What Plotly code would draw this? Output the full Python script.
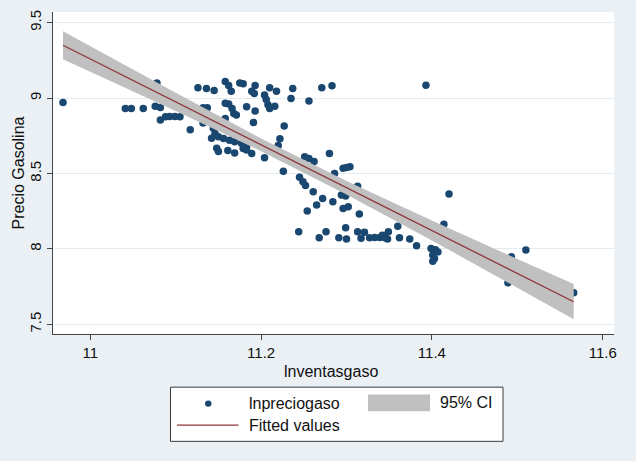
import plotly.graph_objects as go

# ---- data ----
ventas = [10.968, 11.041, 11.048, 11.062, 11.076, 11.082, 11.078, 11.082, 11.088, 11.093,
          11.099, 11.105, 11.117, 11.126, 11.136, 11.145, 11.132, 11.137, 11.132, 11.144,
          11.146, 11.142, 11.150, 11.148, 11.150, 11.158, 11.162, 11.165, 11.175, 11.179,
          11.193, 11.189, 11.192, 11.210, 11.218, 11.204, 11.206, 11.208, 11.210, 11.216,
          11.237, 11.235, 11.256, 11.271, 11.283, 11.158, 11.162, 11.166, 11.168, 11.171,
          11.183, 11.193, 11.158, 11.191, 11.227, 11.156, 11.163, 11.169, 11.177, 11.183,
          11.179, 11.189, 11.161, 11.169, 11.183, 11.204, 11.222, 11.220, 11.226, 11.251,
          11.256, 11.262, 11.259, 11.280, 11.296, 11.300, 11.304, 11.245, 11.249, 11.252,
          11.261, 11.286, 11.313, 11.272, 11.284, 11.294, 11.299, 11.265, 11.254, 11.296,
          11.302, 11.315, 11.244, 11.268, 11.276, 11.291, 11.299, 11.300, 11.313, 11.317,
          11.321, 11.327, 11.333, 11.339, 11.342, 11.345, 11.349, 11.348, 11.360, 11.362,
          11.374, 11.382, 11.399, 11.404, 11.401, 11.403, 11.401, 11.407, 11.414, 11.420,
          11.393, 11.493, 11.489, 11.510, 11.566]
precio = [8.970, 8.930, 8.930, 8.930, 8.945, 8.937, 9.100, 8.855, 8.876, 8.878,
          8.878, 8.876, 8.790, 9.068, 9.063, 9.050, 8.935, 8.935, 8.835, 8.800,
          8.765, 8.733, 8.743, 8.668, 8.645, 9.110, 9.083, 9.045, 9.100, 9.095,
          9.083, 9.045, 9.030, 9.068, 9.045, 9.020, 8.990, 8.955, 8.930, 8.945,
          9.063, 8.997, 8.980, 9.068, 9.081, 8.965, 8.960, 8.930, 8.897, 8.887,
          8.942, 8.915, 8.864, 8.838, 8.815, 8.732, 8.721, 8.710, 8.700, 8.678,
          8.666, 8.632, 8.652, 8.636, 8.655, 8.604, 8.730, 8.685, 8.515, 8.611,
          8.600, 8.580, 8.545, 8.632, 8.535, 8.540, 8.545, 8.475, 8.445, 8.420,
          8.379, 8.500, 8.415, 8.334, 8.313, 8.357, 8.350, 8.291, 8.251, 8.268,
          8.279, 8.231, 8.114, 8.074, 8.114, 8.074, 8.140, 8.066, 8.114, 8.070,
          8.110, 8.074, 8.076, 8.076, 8.090, 8.074, 8.114, 8.066, 8.150, 8.074,
          8.066, 8.021, 8.003, 7.995, 7.960, 7.937, 7.918, 7.980, 8.164, 8.364,
          9.085, 7.948, 7.775, 7.993, 7.710]

fit_x = [10.968, 11.1, 11.2, 11.3, 11.4, 11.5, 11.566]
fit_y = [9.350, 8.975, 8.690, 8.406, 8.122, 7.838, 7.650]
ci_lower = [9.257, 8.914, 8.648, 8.361, 8.056, 7.743, 7.533]
ci_upper = [9.443, 9.036, 8.732, 8.451, 8.188, 7.933, 7.767]

x_ticks = [11, 11.2, 11.4, 11.6]
y_ticks = [7.5, 8, 8.5, 9, 9.5]

# ---- styling ----
W, H = 636, 461
L, R, T, B = 53, 22, 10, 127
PW, PH = W - L - R, H - T - B
FONT = "Liberation Sans, Arial, Helvetica, sans-serif"
NAVY = "#1a476f"
MAROON = "#90353b"
GRAYCI = "#c0c0c0"
BG = "#eaf0f3"


def px(x):
    return (x - L) / PW


def py(y):
    return (H - B - y) / PH


fig = go.Figure()
fig.add_trace(go.Scatter(x=ventas, y=precio, mode="markers",
                         marker=dict(color=NAVY, size=7.5, line=dict(width=0)),
                         name="lnpreciogaso", showlegend=False))
fig.add_trace(go.Scatter(x=fit_x + fit_x[::-1], y=ci_upper + ci_lower[::-1],
                         fill="toself", fillcolor=GRAYCI, mode="none",
                         line=dict(width=0), name="95% CI", showlegend=False))
fig.add_trace(go.Scatter(x=fit_x, y=fit_y, mode="lines",
                         line=dict(color=MAROON, width=1.3),
                         name="Fitted values", showlegend=False))

shapes = []
annotations = []

# legend box
shapes.append(dict(type="rect", xref="paper", yref="paper",
                   x0=px(170.5), x1=px(503), y0=py(442), y1=py(387.5),
                   line=dict(color="#3a3a3a", width=1), fillcolor="white"))
shapes.append(dict(type="circle", xref="paper", yref="paper",
                   x0=px(205), x1=px(211.5), y0=py(407.3), y1=py(400.8),
                   line=dict(width=0), fillcolor=NAVY))
shapes.append(dict(type="rect", xref="paper", yref="paper",
                   x0=px(368), x1=px(430), y0=py(411.7), y1=py(395),
                   line=dict(width=0), fillcolor=GRAYCI))
shapes.append(dict(type="line", xref="paper", yref="paper",
                   x0=px(177), x1=px(238.5), y0=py(425.7), y1=py(425.7),
                   line=dict(color=MAROON, width=1.3)))
for txt, xx, yy in [("lnpreciogaso", 247, 404), ("95% CI", 438, 403),
                    ("Fitted values", 247, 426)]:
    annotations.append(dict(text=txt, xref="paper", yref="paper", x=px(xx), y=py(yy),
                            xanchor="left", yanchor="middle", showarrow=False,
                            font=dict(family=FONT, size=16, color="#111")))

# axis titles
annotations.append(dict(text="lnventasgaso", xref="paper", yref="paper",
                        x=px(331), y=py(372), xanchor="center", yanchor="middle",
                        showarrow=False, font=dict(family=FONT, size=16, color="#111")))
annotations.append(dict(text="Precio Gasolina", xref="paper", yref="paper",
                        x=px(17.5), y=py(172), xanchor="center", yanchor="middle",
                        textangle=-90, showarrow=False,
                        font=dict(family=FONT, size=16, color="#111")))

fig.update_layout(
    width=W, height=H,
    margin=dict(l=L, r=R, t=T, b=B),
    paper_bgcolor=BG, plot_bgcolor="white",
    font=dict(family=FONT, size=15, color="#111"),
    showlegend=False,
    shapes=shapes, annotations=annotations,
    xaxis=dict(range=[10.9563, 11.6132], tickvals=x_ticks,
               ticktext=[f"{v:g}" for v in x_ticks],
               showgrid=False, zeroline=False, showline=True,
               linecolor="#444", linewidth=1, mirror=False,
               ticks="outside", ticklen=5, tickcolor="#444",
               tickfont=dict(family=FONT, size=15, color="#111")),
    yaxis=dict(range=[7.436, 9.5705], tickvals=y_ticks,
               ticktext=[f"{v:g}" for v in y_ticks],
               showgrid=True, gridcolor="#e3ecef", gridwidth=1,
               zeroline=False, showline=True,
               linecolor="#444", linewidth=1,
               ticks="outside", ticklen=5, tickcolor="#444", tickangle=-90,
               tickfont=dict(family=FONT, size=15, color="#111")),
)

fig.write_html("out.html", config={"displayModeBar": False},
               post_script="document.body.style.margin='0px';document.body.style.padding='0px';")
